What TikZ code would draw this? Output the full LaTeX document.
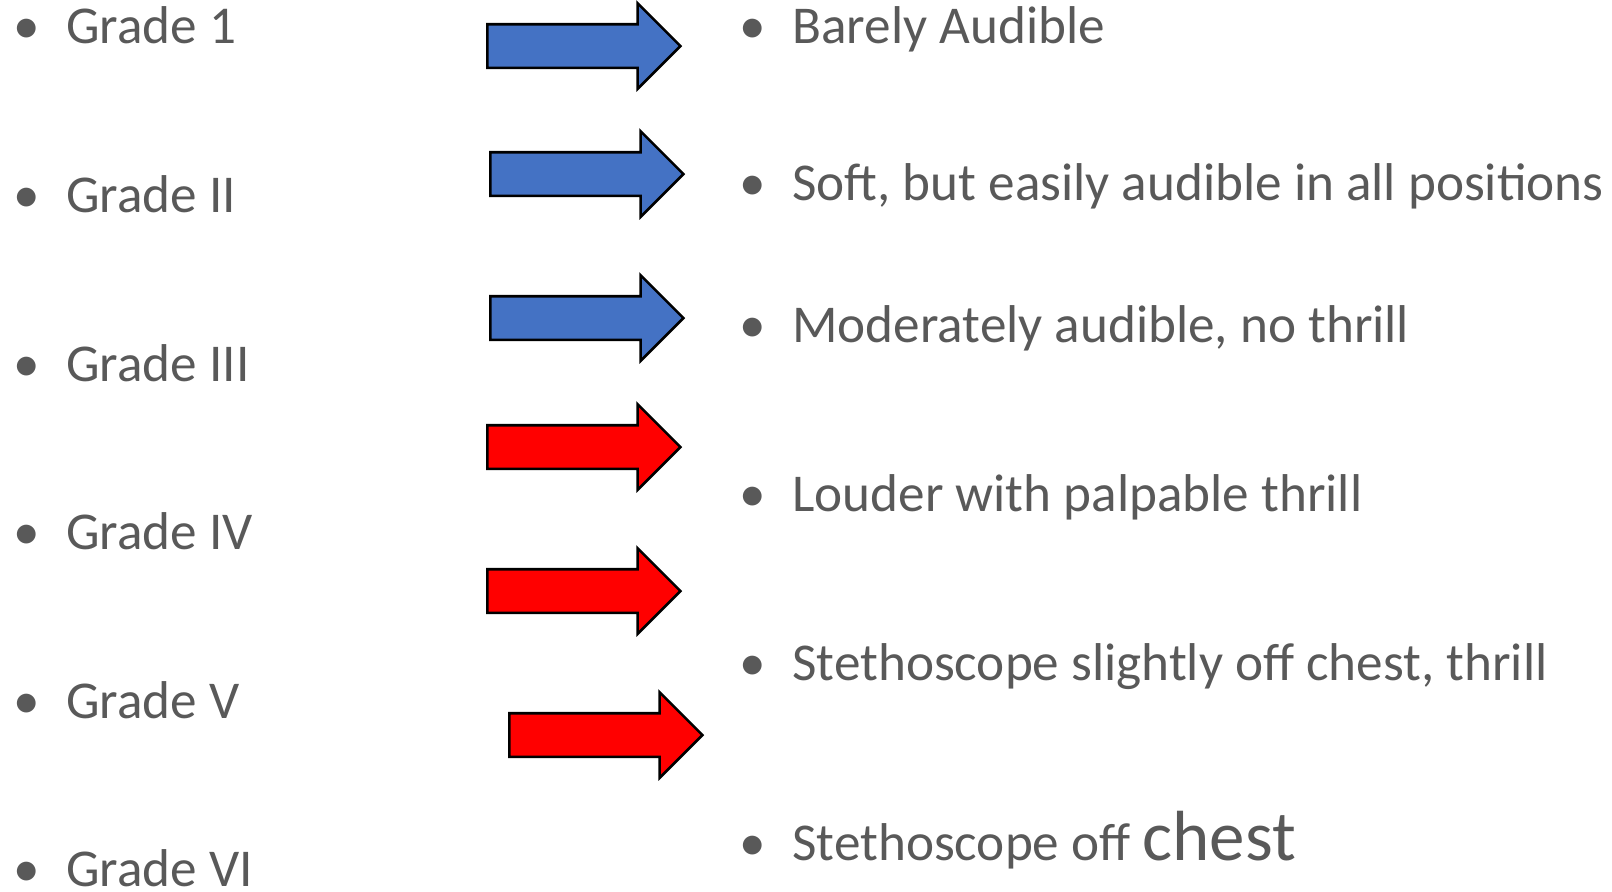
\documentclass[tikz,border=0pt]{standalone}
\usepackage{fontspec}
\setmainfont{Carlito}
\usepackage{xcolor}
\usepackage{tikz}
\usetikzlibrary{shapes.arrows}

\definecolor{txtgray}{HTML}{595959}
\definecolor{softblue}{HTML}{4472C4}
\definecolor{loudred}{HTML}{FF0000}
\newcommand{\blt}{\llap{\textbullet\hspace{13pt}}}

\begin{document}
\begin{tikzpicture}[
    x=0.5pt, y=-0.5pt,
    item/.style={anchor=base west, inner sep=0pt, text=txtgray, font=\fontsize{26.6}{31}\selectfont},
    grade arrow/.style={single arrow, draw=black, line width=1.3pt, inner xsep=0pt, inner ysep=10.25pt,
      minimum height=96.5pt, minimum width=41.5pt, single arrow head extend=10.5pt,
      single arrow head indent=0pt, shape border rotate=0},
    soft/.style={grade arrow, fill=softblue},
    loud/.style={grade arrow, fill=loudred}
]
  \useasboundingbox (0,0) rectangle (1612,891);

  % Grades
  \node[item] (g1) at (66,43) {\blt Grade 1};
  \node[item] (g2) at (66,212) {\blt Grade II};
  \node[item] (g3) at (66,381) {\blt Grade III};
  \node[item] (g4) at (66,549) {\blt Grade IV};
  \node[item] (g5) at (66,718) {\blt Grade V};
  \node[item] (g6) at (66,886) {\blt Grade VI};

  % Arrows
  \node[soft] (a1) at (573,46) {};
  \node[soft] (a2) at (576,174) {};
  \node[soft] (a3) at (576,318) {};
  \node[loud] (a4) at (573,447) {};
  \node[loud] (a5) at (573,591) {};
  \node[loud] (a6) at (595,735) {};

  % Descriptions
  \node[item] (d1) at (792,43) {\blt Barely Audible};
  \node[item] (d2) at (792,200) {\blt Soft, but easily audible in all positions};
  \node[item] (d3) at (792,342) {\blt Moderately audible, no thrill};
  \node[item] (d4) at (792,511) {\blt Louder with palpable thrill};
  \node[item] (d5) at (792,680) {\blt Stethoscope slightly off chest, thrill};
  \node[item] (d6) at (792,860) {\blt Stethoscope off {\fontsize{35.5}{41}\selectfont chest}};
\end{tikzpicture}
\end{document}
